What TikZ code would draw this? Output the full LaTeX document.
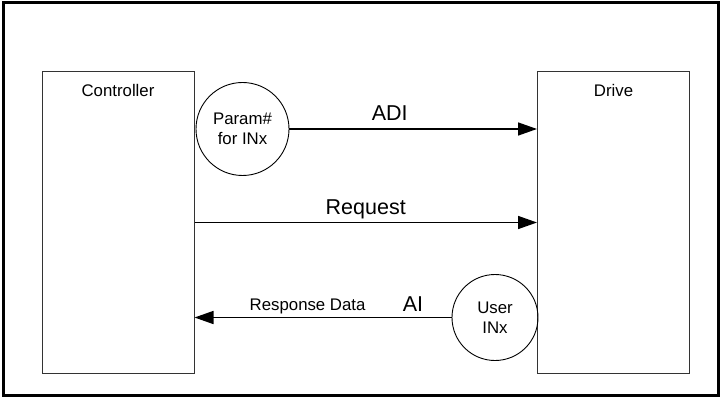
\documentclass[tikz,border=0pt]{standalone}
\usepackage{fontspec}
\setmainfont{Liberation Sans}
\usetikzlibrary{positioning,arrows.meta}

\begin{document}
\begin{tikzpicture}[x=1pt,y=-1pt,>={Triangle[length=19pt,width=13pt]}]
    \tikzstyle{box}=[draw=black!80,line width=1pt,minimum width=152pt,minimum height=301pt,inner sep=0pt];
    \tikzstyle{bubble}=[draw,circle,line width=0.9pt,inner sep=0pt,align=center,font=\fontsize{16.8}{20}\selectfont];
    \tikzstyle{small}=[font=\fontsize{16.8}{20}\selectfont,inner sep=0pt];
    \tikzstyle{big}=[font=\fontsize{21.5}{24}\selectfont,inner sep=0pt];
    \tikzstyle{link}=[->,line width=1.5pt];

    \useasboundingbox (0,0) rectangle (722,398);
    \draw[line width=3pt] (3,3) rectangle (718,395);

    \node[box] (ctrl) at (118,222.5) {};
    \node[box] (drive) at (613.5,222.5) {};
    \node[small, below=13pt of ctrl.north] (ctrltxt) {Controller};
    \node[small, below=13pt of drive.north] (drivetxt) {Drive};

    \node[bubble,minimum size=93pt] (param) at (242.5,129) {Param\#\\for INx};
    \node[bubble,minimum size=86pt] (user) at (495,317.5) {User\\INx};

    \draw[link] (param) -- (param -| drive.west)
        node[big,pos=0.405,anchor=base,yshift=8.5pt] {ADI};
    \draw[link] (ctrl) -- (drive)
        node[big,midway,anchor=base,yshift=8.5pt] {Request};
    \draw[link] (user) -- (user -| ctrl.east)
        node[small,pos=0.56,anchor=base,yshift=7pt] {Response Data}
        node[big,pos=0.15,anchor=base,yshift=6pt] {AI};

\end{tikzpicture}
\end{document}
